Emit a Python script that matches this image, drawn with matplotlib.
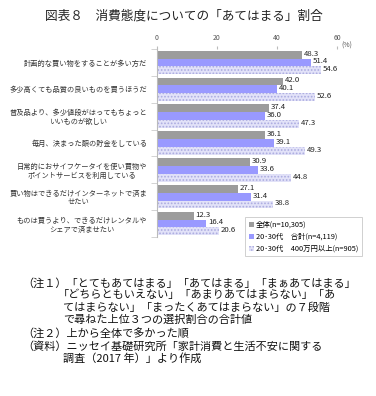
import matplotlib
matplotlib.use("Agg")
import matplotlib.pyplot as plt
import numpy as np

plt.rcParams['font.family'] = ['Noto Sans CJK JP', 'DejaVu Sans']
plt.rcParams['hatch.linewidth'] = 0.8

categories = [
    "計画的な買い物をすることが多い方だ",
    "多少高くても品質の良いものを買うほうだ",
    "普及品より、多少値段がはってもちょっと\nいいものが欲しい",
    "毎月、決まった額の貯金をしている",
    "日常的におサイフケータイを使い買物や\nポイントサービスを利用している",
    "買い物はできるだけインターネットで済ま\nせたい",
    "ものは買うより、できるだけレンタルや\nシェアで済ませたい",
]
all_vals = [48.3, 42.0, 37.4, 36.1, 30.9, 27.1, 12.3]
young_vals = [51.4, 40.1, 36.0, 39.1, 33.6, 31.4, 16.4]
rich_vals = [54.6, 52.6, 47.3, 49.3, 44.8, 38.8, 20.6]
series_names = ["全体(n=10,305)", "20･30代　合計(n=4,119)", "20･30代　400万円以上(n=905)"]
xticks = [0, 20, 40, 60]

fig = plt.figure(figsize=(3.76, 3.96), dpi=100)
ax = fig.add_axes([157 / 376, 1 - 237 / 396, 180 / 376, 188 / 396])

y = np.arange(len(categories))
h = 0.29
b1 = ax.barh(y - h, all_vals, height=h, color='#9C9C9C', label=series_names[0])
b2 = ax.barh(y, young_vals, height=h, color='#9999FF', label=series_names[1])
b3 = ax.barh(y + h, rich_vals, height=h, color='#E2E2F8', edgecolor='#ABABE0',
             hatch='.....', lw=0, label=series_names[2])

for bars, vals in [(b1, all_vals), (b2, young_vals), (b3, rich_vals)]:
    for bar, v in zip(bars, vals):
        ax.text(v + 0.6, bar.get_y() + bar.get_height() / 2 - 0.04, f"{v:.1f}",
                fontsize=5.6, color='#222222', va='center', ha='left')

ax.set_xlim(0, 60)
ax.set_ylim(len(categories) - 0.5, -0.5)
ax.xaxis.tick_top()
ax.set_xticks(xticks)
ax.tick_params(axis='x', length=2, color='#BBBBBB', labelsize=5, labelcolor='#555555', pad=3)
ax.set_yticks(y)
ax.set_yticklabels(categories, fontsize=5.2, color='#333333', multialignment='center')
ax.tick_params(axis='y', length=0, pad=7)
ax.set_yticks(np.arange(-0.5, len(categories)), minor=True)
ax.tick_params(axis='y', which='minor', length=4, color='#CCCCCC')
for side in ['top', 'right', 'bottom']:
    ax.spines[side].set_visible(False)
ax.spines['left'].set_color('#BBBBBB')
ax.spines['left'].set_linewidth(0.8)

fig.text(347 / 376, 1 - 46 / 396, "(%)", fontsize=5, color='#555555', ha='center', va='center')

leg = ax.legend(loc='upper left', bbox_to_anchor=(245 / 376, 1 - 217 / 396),
                bbox_transform=fig.transFigure, fontsize=5.3, frameon=True,
                fancybox=False, edgecolor='#BBBBBB', handlelength=0.7, handleheight=0.7,
                handletextpad=0.3, borderpad=0.5, labelspacing=0.55, borderaxespad=0)
leg.get_frame().set_linewidth(0.6)

fig.text(184 / 376, 1 - 16 / 396, "図表８　消費態度についての「あてはまる」割合",
         fontsize=9.1, ha='center', va='center', color='#222222')

notes = [
    (22, 283, "（注１）「とてもあてはまる」「あてはまる」「まぁあてはまる」"),
    (58, 295, "「どちらともいえない」「あまりあてはまらない」「あ"),
    (63, 308, "てはまらない」「まったくあてはまらない」の７段階"),
    (63, 320, "で尋ねた上位３つの選択割合の合計値"),
    (22, 333, "（注２）上から全体で多かった順"),
    (22, 346, "（資料）ニッセイ基礎研究所「家計消費と生活不安に関する"),
    (63, 358, "調査（2017 年）」より作成"),
]
for nx, ny, s in notes:
    fig.text(nx / 376, 1 - ny / 396, s, fontsize=8.0, ha='left', va='center', color='#111111')

fig.savefig("out.png", dpi=100, facecolor='white')
